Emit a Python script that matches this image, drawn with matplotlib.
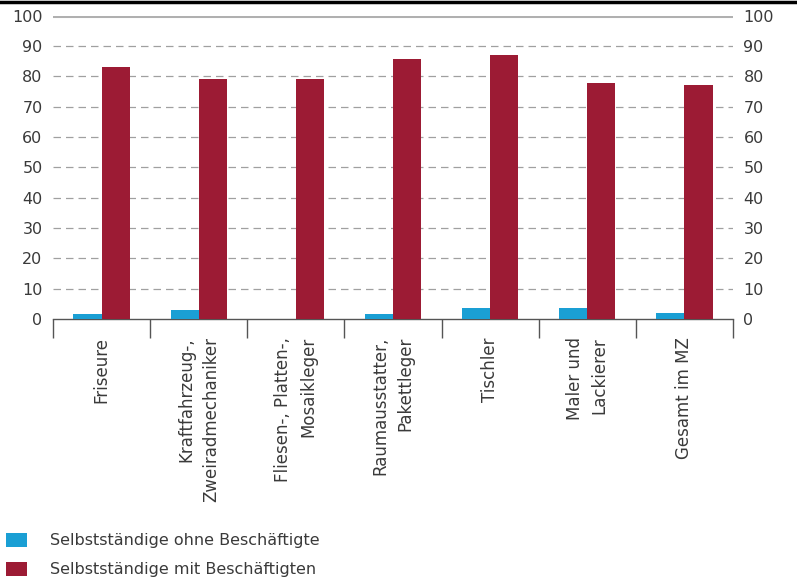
import matplotlib
matplotlib.use("Agg")
import matplotlib.pyplot as plt
import numpy as np

plt.rcParams['font.family'] = ['DejaVu Sans']

categories = ["Friseure", "Kraftfahrzeug-,\nZweiradmechaniker", "Fliesen-, Platten-,\nMosaikleger",
              "Raumausstatter,\nPakettleger", "Tischler", "Maler und\nLackierer", "Gesamt im MZ"]
ohne = [1.5, 3.0, 0.0, 1.5, 3.7, 3.7, 1.9]
mit = [83.2, 79.0, 79.1, 85.7, 87.0, 77.8, 77.2]
series_names = ["Selbstständige ohne Beschäftigte", "Selbstständige mit Beschäftigten"]
yticks = list(range(0, 101, 10))

blue = "#1a9fd4"
red = "#9c1b34"
txt = "#3a3a3a"

fig = plt.figure(figsize=(7.97, 5.84), dpi=100)
ax = fig.add_axes([53/797, 1-319/584, 680/797, (319-15.7)/584])

x = np.arange(len(categories)) + 0.5
w = 0.29
b1 = ax.bar(x - w/2, ohne, w, color=blue, label=series_names[0], zorder=3)
b2 = ax.bar(x + w/2, mit, w, color=red, label=series_names[1], zorder=3)

ax.set_xlim(0, len(categories))
ax.set_ylim(0, 100)
ax.set_yticks(yticks)
for t in yticks[1:-1]:
    ax.axhline(t, color="#a0a0a0", lw=0.9, ls=(0, (6, 4)), zorder=1)
ax.axhline(100, color="#b0b0b0", lw=2.2, zorder=1)

for s in ["left", "right", "top"]:
    ax.spines[s].set_visible(False)
ax.spines["bottom"].set_color("#555555")
ax.spines["bottom"].set_linewidth(1)

ax.set_xticks(np.arange(len(categories) + 1))
ax.set_xticklabels([])
ax.tick_params(axis="x", length=14, width=1, color="#555555", direction="out")
ax.set_xticks(x, minor=True)
ax.set_xticklabels(categories, minor=True, rotation=90, fontsize=12,
                   va="top", ha="center", multialignment="right", color=txt)
for lab in ax.get_xticklabels(minor=True):
    lab.set_linespacing(1.5)
ax.tick_params(axis="x", which="minor", length=0, pad=13)

ax.tick_params(axis="y", length=0, labelsize=11.5, labelcolor=txt,
               left=True, right=True, labelleft=True, labelright=True, pad=7.5)

# top black rule
fig.add_artist(plt.Line2D([0, 1], [1 - 1.5/584, 1 - 1.5/584], color="black", lw=2.5,
                          transform=fig.transFigure))

fig.legend(handles=[b1, b2], loc="upper left", bbox_to_anchor=(6/797, 1 - 533/584),
           frameon=False, fontsize=11.5, handlelength=1.3, handleheight=0.95,
           handletextpad=1.45, labelspacing=0.85, borderpad=0, borderaxespad=0,
           labelcolor=txt)

fig.savefig("out.png", dpi=100)
